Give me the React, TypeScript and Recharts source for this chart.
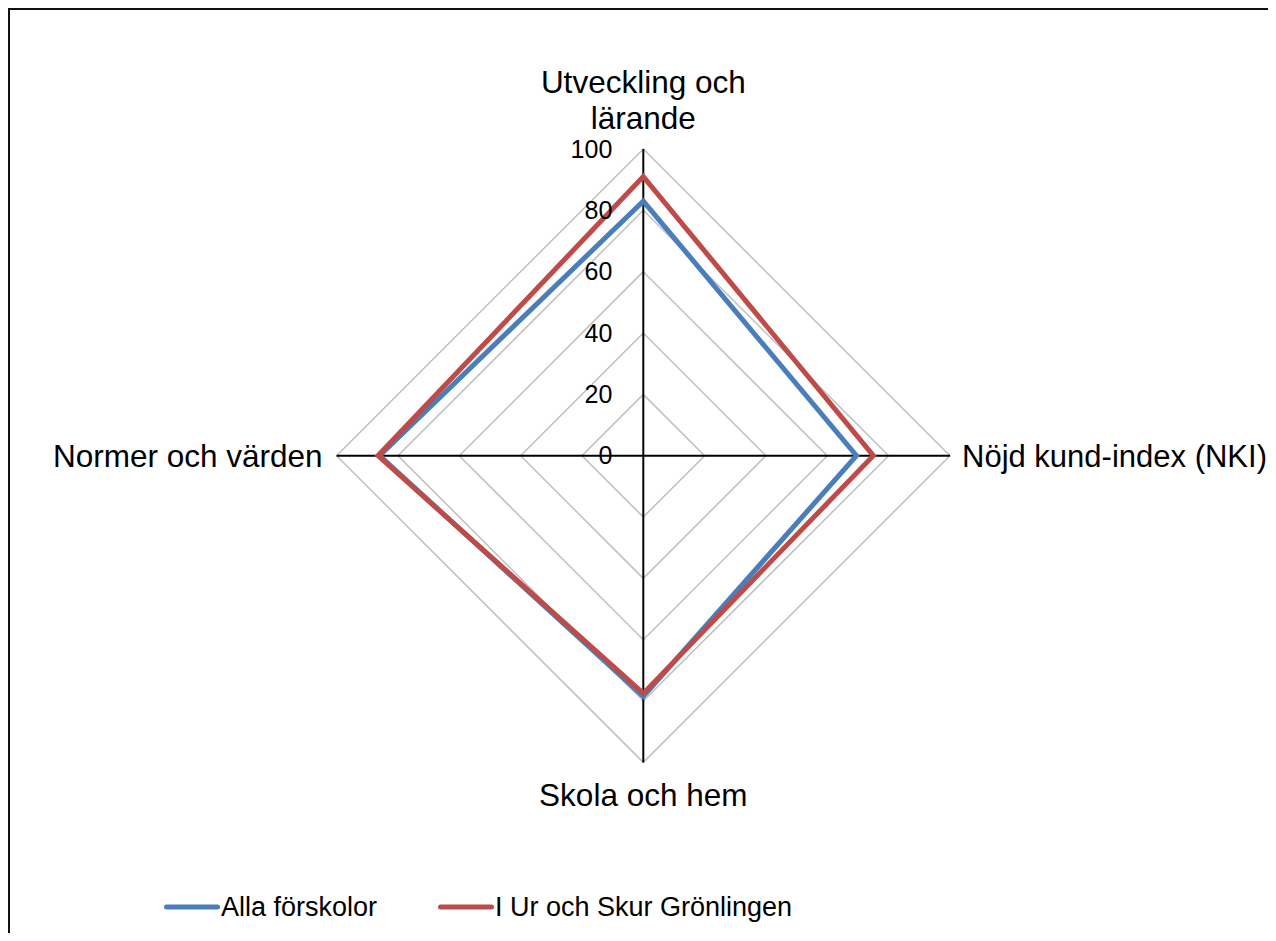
import React from 'react';
import {
  RadarChart,
  Radar,
  PolarGrid,
  PolarAngleAxis,
  PolarRadiusAxis,
  Legend,
} from 'recharts';

const FONT = '"Liberation Sans", Arial, sans-serif';

const categories = [
  'Utveckling och lärande',
  'Nöjd kund-index (NKI)',
  'Skola och hem',
  'Normer och värden',
];
const categoryLines: string[][] = [
  ['Utveckling och', 'lärande'],
  ['Nöjd kund-index (NKI)'],
  ['Skola och hem'],
  ['Normer och värden'],
];
const allaForskolor = [83, 69.5, 78.5, 86];
const urOchSkur = [91, 75, 77.5, 86.5];
const seriesNames = ['Alla förskolor', 'I Ur och Skur Grönlingen'];
const radiusTicks = [0, 20, 40, 60, 80, 100];

const data = categories.map((c, i) => ({
  category: c,
  alla: allaForskolor[i],
  ur: urOchSkur[i],
}));

const AngleTick = (props: any) => {
  const { x, y, index } = props;
  const lines = categoryLines[index] || [String(props.payload.value)];
  const common = { fontFamily: FONT, fontSize: 31.5, fill: '#000' };
  if (index === 0) {
    return (
      <text textAnchor="middle" {...common}>
        <tspan x={x} y={y - 59} dy="0.35em">{lines[0]}</tspan>
        <tspan x={x} y={y - 23} dy="0.35em">{lines[1]}</tspan>
      </text>
    );
  }
  if (index === 1) {
    return (
      <text x={x + 4} y={y} dy="0.35em" textAnchor="start" {...common} fontSize={31}>{lines[0]}</text>
    );
  }
  if (index === 2) {
    return (
      <text x={x} y={y + 25} dy="0.35em" textAnchor="middle" {...common}>{lines[0]}</text>
    );
  }
  return (
    <text x={x - 6} y={y} dy="0.35em" textAnchor="end" {...common}>{lines[0]}</text>
  );
};

const RadiusTick = (props: any) => {
  const { x, y, payload } = props;
  return (
    <text x={x - 31} y={y} dy="0.34em" textAnchor="end" fontFamily={FONT} fontSize={25} fill="#000">
      {payload.value}
    </text>
  );
};

const renderLegend = (props: any) => {
  const payload = props.payload || [];
  return (
    <div style={{ display: 'flex', alignItems: 'center', fontFamily: FONT, fontSize: 27, color: '#000' }}>
      {payload.map((p: any, i: number) => (
        <div key={i} style={{ display: 'flex', alignItems: 'center', width: i === 0 ? 274 : 'auto', whiteSpace: 'nowrap' }}>
          <svg width={56} height={8} style={{ display: 'block' }}>
            <line x1={2.5} x2={53.5} y1={4} y2={4} stroke={p.color} strokeWidth={5} strokeLinecap="round" />
          </svg>
          <span style={{ marginLeft: 1, lineHeight: '30px' }}>{p.value}</span>
        </div>
      ))}
    </div>
  );
};

export default function App() {
  return (
    <div
      style={{
        position: 'relative',
        width: 1268,
        height: 933,
        marginBottom: -8,
        background: '#fff',
      }}
    >
      <div
        style={{
          position: 'absolute',
          left: 0,
          top: 0,
          right: 0,
          bottom: 0,
          borderTop: '2px solid #111',
          borderLeft: '2px solid #111',
          pointerEvents: 'none',
          zIndex: 2,
        }}
      />
      <div style={{ position: 'absolute', left: 0, top: 0 }}>
        <RadarChart
          width={1268}
          height={933}
          data={data}
          cx={635.3}
          cy={447.7}
          outerRadius={306.7}
          startAngle={90}
          endAngle={-270}
          margin={{ top: 0, right: 0, bottom: 0, left: 0 }}
        >
          <PolarGrid gridType="polygon" radialLines={false} stroke="#BFBFBF" strokeWidth={1.5} />
          <PolarGrid gridType="polygon" polarRadius={[]} stroke="#000" strokeWidth={2} />
          <PolarAngleAxis
            dataKey="category"
            tick={AngleTick}
            tickLine={false}
            axisLine={false}
          />
          <PolarRadiusAxis
            angle={90}
            domain={[0, 100]}
            ticks={radiusTicks as any}
            tickCount={6}
            tick={RadiusTick}
            tickLine={false}
            axisLine={false}
          />
          <Radar
            name={seriesNames[0]}
            dataKey="alla"
            stroke="#4A7EBB"
            strokeWidth={5}
            fill="none"
            fillOpacity={0}
            dot={false}
            isAnimationActive={false}
          />
          <Radar
            name={seriesNames[1]}
            dataKey="ur"
            stroke="#BE4B48"
            strokeWidth={5}
            fill="none"
            fillOpacity={0}
            dot={false}
            isAnimationActive={false}
          />
          <Legend
            content={renderLegend}
            wrapperStyle={{ position: 'absolute', left: 156, top: 884, width: 'auto', height: 30 }}
          />
        </RadarChart>
      </div>
    </div>
  );
}
